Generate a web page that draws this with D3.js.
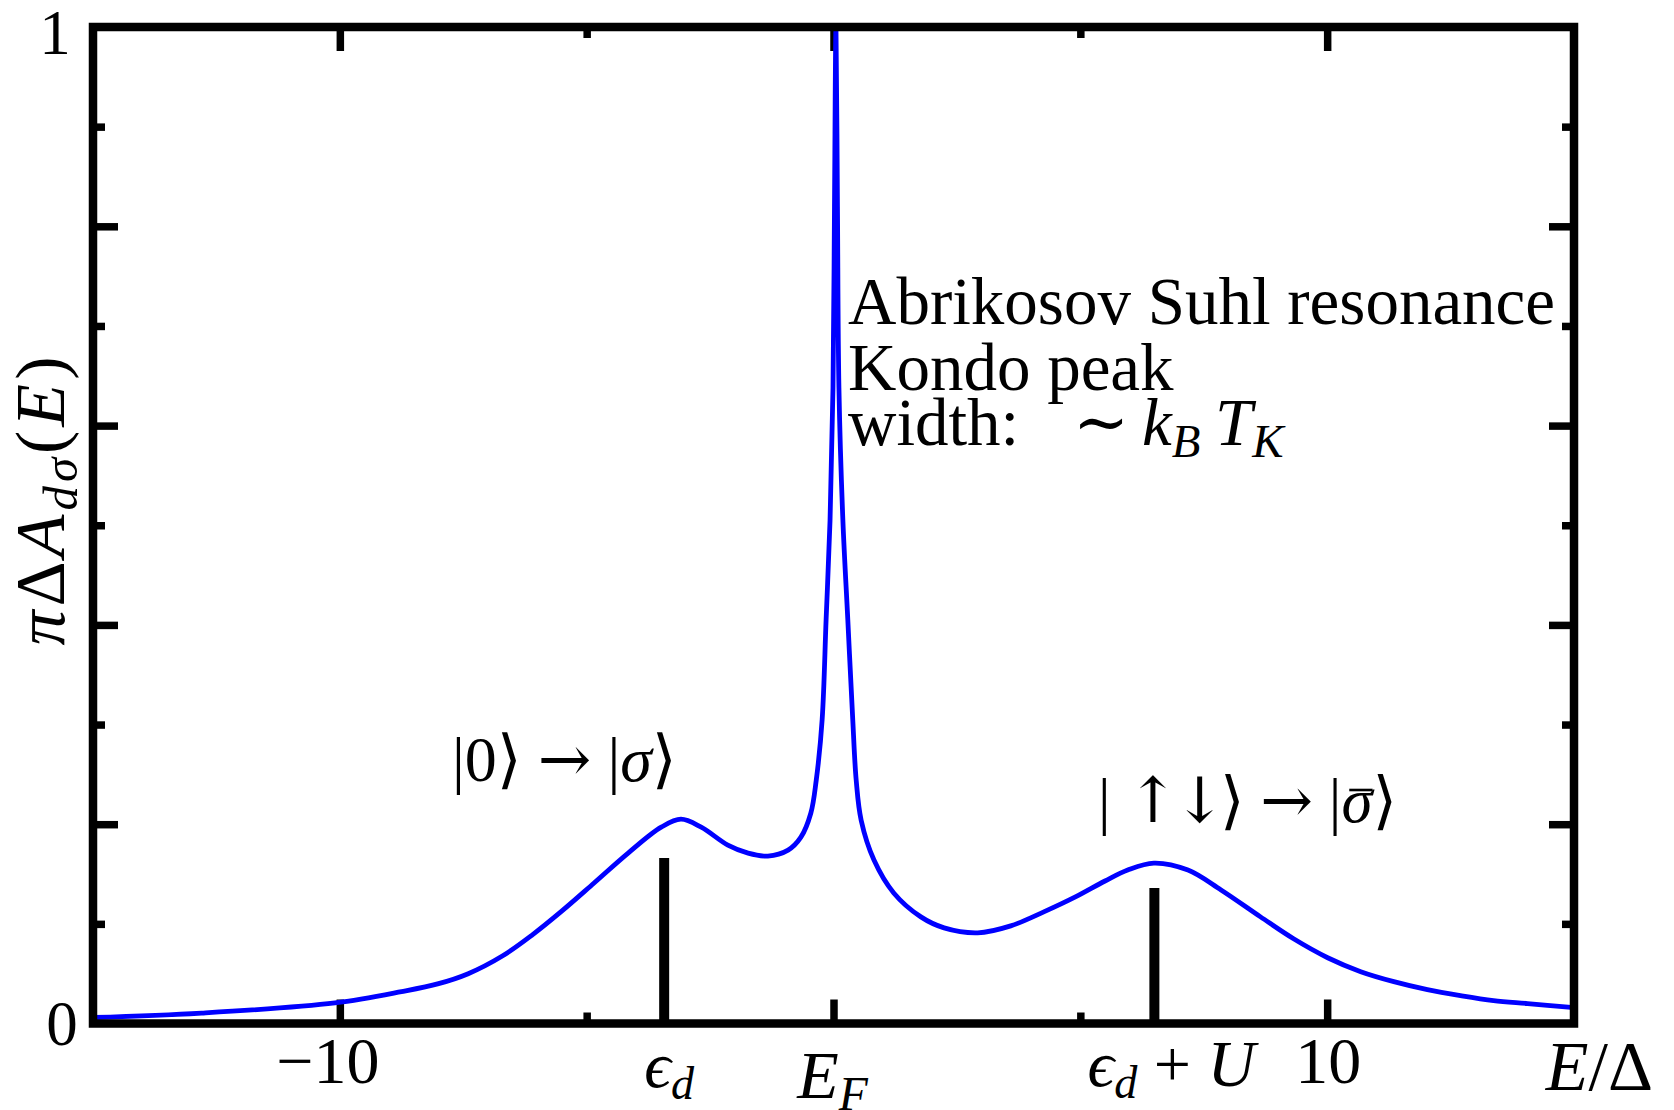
<!DOCTYPE html>
<html>
<head>
<meta charset="utf-8">
<script src="https://d3js.org/d3.v7.min.js"></script>
<style>
  body { margin: 0; background: white; }
  svg { display: block; }
</style>
</head>
<body>
<script>
// spectral function of the Anderson impurity
var energy = [-15.0, -12.8, -10.1, -8.75, -8.0, -7.4, -6.7, -6.1, -5.5, -4.85,
  -4.16, -3.49, -3.09, -2.68, -2.14, -1.73, -1.33, -0.92, -0.66, -0.46,
  -0.35, -0.23, -0.15, -0.07, -0.01, 0.02, 0.05, 0.08, 0.11, 0.19,
  0.29, 0.39, 0.46, 0.56, 0.82, 1.22, 1.77, 2.24, 2.92, 3.59,
  4.26, 4.9, 5.5, 5.96, 6.49, 7.18, 7.85, 8.65, 9.32, 10.01,
  10.68, 11.35, 12.03, 12.7, 13.37, 14.06, 15.0];
var spectral = [0.006, 0.0105, 0.0206, 0.032, 0.04, 0.05, 0.068, 0.089, 0.113, 0.141,
  0.171, 0.197, 0.205, 0.197, 0.179, 0.171, 0.168, 0.174, 0.187, 0.211,
  0.244, 0.305, 0.405, 0.505, 0.638, 0.82, 1.0, 0.82, 0.638, 0.505,
  0.405, 0.305, 0.244, 0.204, 0.164, 0.131, 0.107, 0.096, 0.091, 0.098,
  0.112, 0.127, 0.143, 0.154, 0.161, 0.154, 0.134, 0.107, 0.085, 0.066,
  0.052, 0.042, 0.034, 0.028, 0.023, 0.02, 0.016];

// atomic levels eps_d and eps_d + U (black bars)
var levelE = [-3.43, 6.5];
var levelH = [0.166, 0.136];

var xMajor = [-10, 0, 10];
var xMinor = [-5, 5];
var yMajor = [0.2, 0.4, 0.6, 0.8];
var yMinor = [0.1, 0.3, 0.5, 0.7, 0.9];
var xTickLabels = [-10, 10];
var yTickLabels = [0, 1];

var W = 1674, H = 1110;
var margin = { top: 27, right: 100, bottom: 86.5, left: 93 };
var serif = "'Liberation Serif', 'DejaVu Serif', serif";
var arrowFont = "'DejaVu Serif', serif";

var x = d3.scaleLinear().domain([-15, 15]).range([margin.left, W - margin.right]);
var y = d3.scaleLinear().domain([0, 1]).range([H - margin.bottom, margin.top]);

var svg = d3.select("body").append("svg")
  .attr("width", W)
  .attr("height", H)
  .style("background", "white");

// ticks pointing inwards, on all four sides
function tickAxis(axis, values, len, transform) {
  var g = svg.append("g")
    .attr("transform", transform)
    .call(axis.tickValues(values).tickSize(-len).tickFormat(""));
  g.select(".domain").remove();
  g.selectAll(".tick line").attr("stroke", "#000").attr("stroke-width", 7.5);
  return g;
}
var yb = H - margin.bottom, yt = margin.top, xl = margin.left, xr = W - margin.right;
tickAxis(d3.axisBottom(x), xMajor, 24, "translate(0," + yb + ")");
tickAxis(d3.axisBottom(x), xMinor, 11, "translate(0," + yb + ")");
tickAxis(d3.axisTop(x), xMajor, 24, "translate(0," + yt + ")");
tickAxis(d3.axisTop(x), xMinor, 11, "translate(0," + yt + ")");
tickAxis(d3.axisLeft(y), yMajor, 25, "translate(" + xl + ",0)");
tickAxis(d3.axisLeft(y), yMinor, 12, "translate(" + xl + ",0)");
tickAxis(d3.axisRight(y), yMajor, 25, "translate(" + xr + ",0)");
tickAxis(d3.axisRight(y), yMinor, 12, "translate(" + xr + ",0)");

// level bars
svg.selectAll(".level")
  .data(levelE)
  .join("line")
  .attr("class", "level")
  .attr("x1", function (d) { return x(d); })
  .attr("x2", function (d) { return x(d); })
  .attr("y1", y(0))
  .attr("y2", function (d, i) { return y(levelH[i]); })
  .attr("stroke", "#000")
  .attr("stroke-width", 10);

// the curve
var pts = energy.map(function (e, i) { return [e, spectral[i]]; });
var line = d3.line()
  .x(function (d) { return x(d[0]); })
  .y(function (d) { return y(d[1]); })
  .curve(d3.curveCatmullRom.alpha(0.5));
svg.append("path")
  .datum(pts)
  .attr("fill", "none")
  .attr("stroke", "#0000ff")
  .attr("stroke-width", 4.8)
  .attr("stroke-linejoin", "round")
  .attr("d", line);

// frame
svg.append("rect")
  .attr("x", xl).attr("y", yt)
  .attr("width", xr - xl).attr("height", yb - yt)
  .attr("fill", "none")
  .attr("stroke", "#000")
  .attr("stroke-width", 8.5);

// little math typesetter: parts = [text, italic?, sub?, x, fontFamily]
function mathText(px, py, size, anchor, parts, parent) {
  var t = (parent || svg).append("text")
    .attr("x", px).attr("y", py)
    .attr("font-family", serif)
    .attr("font-size", size)
    .attr("text-anchor", anchor)
    .attr("fill", "#000");
  var down = false;
  parts.forEach(function (p) {
    var s = t.append("tspan").text(p[0]);
    if (p[1]) s.attr("font-style", "italic");
    if (p[2] && !down) { s.attr("dy", size * 0.18); down = true; }
    else if (!p[2] && down) { s.attr("dy", -size * 0.18); down = false; }
    if (p[2]) s.attr("font-size", size * 0.7);
    if (p[3] != null) s.attr("x", p[3]);
    if (p[4]) s.attr("font-family", p[4]);
  });
  return t;
}

// tick labels
xTickLabels.forEach(function (v) {
  mathText(x(v) + (v < 0 ? -12 : 1), 1083, 66, "middle", [[v < 0 ? "\u2212" + (-v) : String(v)]]);
});
yTickLabels.forEach(function (v) {
  mathText(v === 0 ? 62 : 55, y(v) + (v === 0 ? 21 : 27), 63, "middle", [[String(v)]]);
});

mathText(x(levelE[0]) + 5, 1087, 66, "middle", [["\u03f5", true], ["d", true, true]]);
mathText(x(0) - 1, 1098, 68, "middle", [["E", true], ["F", true, true]]);
mathText(x(levelE[1]) + 17, 1086, 66, "middle",
  [["\u03f5", true], ["d", true, true], [" + "], ["U", true]]);
mathText(1653, 1090, 70, "end", [["E", true], ["/\u0394"]]);

// y axis title
var yl = svg.append("g").attr("transform", "translate(64,499) rotate(-90)");
mathText(0, 0, 70, "middle",
  [["\u03c0", true], ["\u0394"], ["A", true], ["d\u03c3", true, true], ["("], ["E", true], [")"]], yl)
  .attr("letter-spacing", 4);

// annotations
mathText(848, 324, 67, "start", [["Abrikosov Suhl resonance"]]);
mathText(848, 390, 67, "start", [["Kondo peak"]]);
mathText(848, 445, 67, "start",
  [["width:"], ["\u223c", false, false, 1073], ["k", true, false, 1142], ["B", true, true],
   ["T", true, false, 1215], ["K", true, true]]);

mathText(452, 781, 64, "start",
  [["|0\u27e9 "], ["\u2192", false, false, null, arrowFont], [" |"], ["\u03c3", true], ["\u27e9"]]);
var bar = mathText(1098, 822, 63, "start",
  [["| "], ["\u2191", false, false, null, arrowFont],
   ["\u2193", false, false, null, arrowFont], ["\u27e9 "],
   ["\u2192", false, false, null, arrowFont], [" |"], ["\u03c3", true], ["\u27e9"]]);
bar.selectAll("tspan").filter(function (d, i) { return i === 2 || i === 3; })
  .attr("dx", -6);

// macron over sigma
var node = bar.node();
var idx = node.textContent.indexOf("\u03c3");
var r = node.getExtentOfChar(idx);
svg.append("line")
  .attr("x1", r.x + r.width * 0.25).attr("x2", r.x + r.width * 1.0)
  .attr("y1", 822 - 32).attr("y2", 822 - 32)
  .attr("stroke", "#000").attr("stroke-width", 2.6);
</script>
</body>
</html>
